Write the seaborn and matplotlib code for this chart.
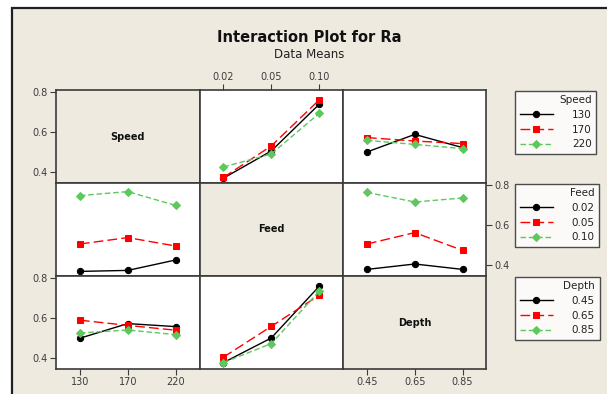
import matplotlib.pyplot as plt
import seaborn as sns
import pandas as pd

speed_levels = ["130", "170", "220"]
feed_levels = ["0.02", "0.05", "0.10"]
depth_levels = ["0.45", "0.65", "0.85"]

# mean Ra: one inner list per hue level, one value per x level
feed_x_speed = [[0.369, 0.505, 0.738], [0.373, 0.530, 0.760], [0.425, 0.490, 0.693]]
depth_x_speed = [[0.500, 0.588, 0.522], [0.572, 0.555, 0.542], [0.558, 0.538, 0.517]]
speed_x_feed = [[0.368, 0.373, 0.425], [0.505, 0.537, 0.495], [0.747, 0.767, 0.698]]
depth_x_feed = [[0.378, 0.405, 0.378], [0.505, 0.562, 0.473], [0.763, 0.715, 0.735]]
speed_x_depth = [[0.499, 0.572, 0.557], [0.589, 0.563, 0.539], [0.525, 0.540, 0.517]]
feed_x_depth = [[0.377, 0.500, 0.758], [0.404, 0.558, 0.713], [0.377, 0.472, 0.733]]

y_ticks = [0.4, 0.6, 0.8]

BEIGE = "#eeeae0"
EDGE = "#3a3a3a"
TICKC = "#3c3c3c"
colors = ["black", "#ff0000", "#5ec85e"]
markers = ["o", "s", "D"]
styles = ["-", (0, (7, 3)), (0, (4, 2))]

factors = ["Speed", "Feed", "Depth"]
levels = {"Speed": speed_levels, "Feed": feed_levels, "Depth": depth_levels}
panels = {
    (0, 1): feed_x_speed, (0, 2): depth_x_speed,
    (1, 0): speed_x_feed, (1, 2): depth_x_feed,
    (2, 0): speed_x_depth, (2, 1): feed_x_depth,
}


def long_df(values, x_name, hue_name):
    rows = []
    for h, vals in zip(levels[hue_name], values):
        for x, v in zip(levels[x_name], vals):
            rows.append({x_name: x, hue_name: h, "Ra": v})
    return pd.DataFrame(rows)


W, H = 607, 394
fig = plt.figure(figsize=(W / 100, H / 100), dpi=100, facecolor="white")
frame = plt.Rectangle((12 / W, -0.05), 1.0, 1 - 8 / H + 0.05, transform=fig.transFigure,
                      facecolor=BEIGE, edgecolor="#202020", lw=1.6, zorder=-10)
fig.patches.append(frame)

fig.text(309 / W, 1 - 37 / H, "Interaction Plot for Ra", ha="center", va="center",
         fontsize=10.5, fontweight="bold", color="#111111")
fig.text(309 / W, 1 - 54 / H, "Data Means", ha="center", va="center",
         fontsize=8.5, color="#222222")

x0, pw = 56, 143.5
y0, ph = 90, 93
ylim = (0.345, 0.81)
legend_src = {}

for r in range(3):
    for c in range(3):
        left = (x0 + c * pw) / W
        bottom = 1 - (y0 + (r + 1) * ph) / H
        ax = fig.add_axes([left, bottom, pw / W, ph / H])
        if (r, c) in panels:
            ax.set_facecolor("white")
            df = long_df(panels[(r, c)], factors[c], factors[r])
            sns.pointplot(data=df, x=factors[c], y="Ra", hue=factors[r],
                          order=levels[factors[c]], hue_order=levels[factors[r]],
                          palette=colors, markers=markers, linestyles=styles,
                          errorbar=None, markersize=4.5, linewidth=1, ax=ax)
            leg = ax.get_legend()
            if factors[r] not in legend_src:
                legend_src[factors[r]] = (leg.legend_handles, [t.get_text() for t in leg.texts])
            leg.remove()
        else:
            ax.set_facecolor(BEIGE)
            ax.text(0.5, 0.5, factors[r], transform=ax.transAxes, ha="center", va="center",
                    fontsize=7, fontweight="bold", color="#111111")
        ax.set_xlim(-0.5, 2.5)
        ax.set_ylim(*ylim)
        ax.set_xlabel("")
        ax.set_ylabel("")
        for s in ax.spines.values():
            s.set_color(EDGE)
            s.set_linewidth(1.2)
        ax.tick_params(length=0, labelbottom=False, labelleft=False, colors=TICKC,
                       labelsize=7, pad=2)
        ax.set_xticks([0, 1, 2])
        ax.set_yticks(y_ticks)
        # Minitab style: alternate tick sides
        if r == 2 and c in (0, 2):
            ax.tick_params(axis="x", bottom=True, labelbottom=True, length=4, direction="out")
            ax.set_xticklabels(levels[factors[c]])
        if r == 0 and c == 1:
            ax.tick_params(axis="x", top=True, labeltop=True, bottom=False, length=4,
                           direction="out")
            ax.set_xticklabels(levels[factors[c]])
        if c == 0 and r in (0, 2):
            ax.tick_params(axis="y", left=True, labelleft=True, length=4, direction="out")
            ax.set_yticklabels([f"{v:.1f}" for v in y_ticks])
        if c == 2 and r == 1:
            ax.tick_params(axis="y", right=True, labelright=True, left=False, length=4,
                           direction="out")
            ax.set_yticklabels([f"{v:.1f}" for v in y_ticks])

for r, name in enumerate(factors):
    handles, labels = legend_src[name]
    top = 1 - (y0 + r * ph + 0.5) / H
    lg = fig.legend(handles, labels, title=name, loc="upper left",
                    bbox_to_anchor=(515 / W, top), frameon=True, fancybox=False,
                    fontsize=7.5, title_fontsize=7.5, handlelength=3.2,
                    borderpad=0.45, labelspacing=0.45, handletextpad=1.8,
                    borderaxespad=0)
    lg.get_frame().set_edgecolor("#222222")
    lg.get_frame().set_linewidth(1.0)
    lg.get_title().set_color("#222222")
    lg._legend_box.align = "right"
    for t in lg.get_texts():
        t.set_color("#222222")

fig.savefig("out.png", dpi=100, facecolor=fig.get_facecolor())
